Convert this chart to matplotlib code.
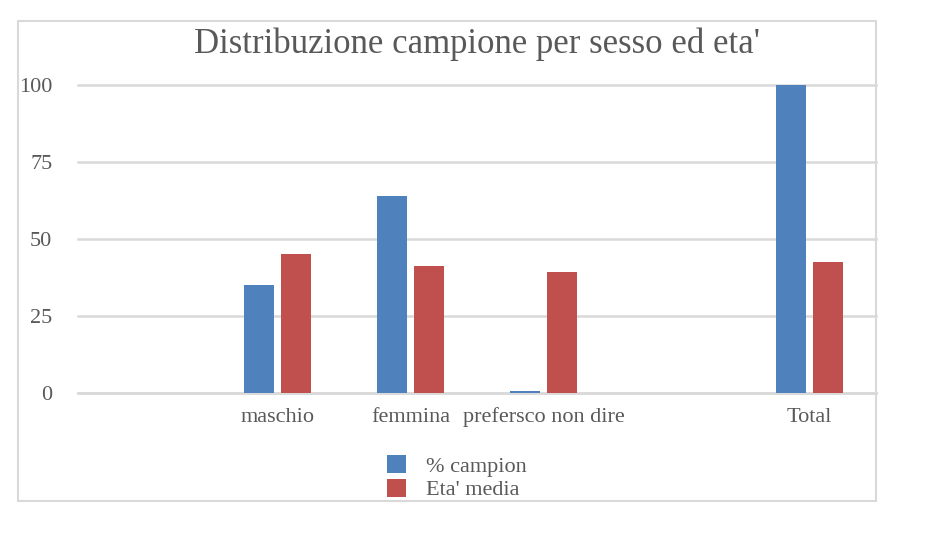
import matplotlib.pyplot as plt
import numpy as np
from matplotlib.patches import Rectangle

# categories (the empty slots are blank categories in the source sheet)
CATEGORIES = ["", "maschio", "femmina", "prefersco non dire", "", "Total"]
PCT_CAMPION = [np.nan, 35.0, 63.8, 0.5, np.nan, 100.0]
ETA_MEDIA = [np.nan, 45.0, 41.1, 39.2, np.nan, 42.4]
SERIES_LABELS = ["% campion", "Eta' media"]
Y_TICKS = [0, 25, 50, 75, 100]

BLUE = "#4F81BD"
RED = "#C0504D"
TEXT = "#595959"
GRID = "#D9D9D9"

plt.rcParams["font.family"] = ["Liberation Serif", "DejaVu Serif"]

fig = plt.figure(figsize=(9.44, 5.44), dpi=100)
W, H = 944, 544

# outer chart border
fig.patches.append(Rectangle((18 / W, 1 - 501 / H), (876 - 18) / W, (501 - 21) / H,
                             transform=fig.transFigure, fill=False,
                             edgecolor=GRID, linewidth=1.5))

ax = fig.add_axes([78 / W, 1 - 393 / H, (876 - 78) / W, (393 - 84.5) / H])

x = np.arange(len(CATEGORIES))
bw = 0.225
gap = 0.06
off = (bw + gap) / 2
ax.bar(x - off, PCT_CAMPION, width=bw, color=BLUE, label=SERIES_LABELS[0], zorder=3)
ax.bar(x + off, ETA_MEDIA, width=bw, color=RED, label=SERIES_LABELS[1], zorder=3)

ax.set_xlim(-0.5, len(CATEGORIES) - 0.5)
ax.set_ylim(0, 100)
ax.set_yticks(Y_TICKS)
ax.set_yticklabels([str(v) for v in Y_TICKS], fontsize=16, color=TEXT)
ax.set_xticks(x)
ax.set_xticklabels(CATEGORIES, fontsize=16, color=TEXT)
ax.tick_params(axis="y", length=0, pad=18.5)
ax.tick_params(axis="x", length=0, pad=10.5)

ax.grid(axis="y", color=GRID, linewidth=1.8, zorder=0)
for gl in ax.get_ygridlines():
    gl.set_clip_on(False)
ax.set_axisbelow(True)
for s in ["top", "right", "left"]:
    ax.spines[s].set_visible(False)
ax.spines["bottom"].set_color(GRID)
ax.spines["bottom"].set_linewidth(1.8)

fig.text(477 / W, 1 - 44 / H, "Distribuzione campione per sesso ed eta'",
         ha="center", va="center", fontsize=25, color=TEXT)

leg = ax.legend(loc="upper left", bbox_to_anchor=(387 / W, 1 - 455 / H),
                bbox_transform=fig.transFigure, ncol=1, frameon=False,
                fontsize=16, handlelength=0.85, handleheight=0.85,
                handletextpad=0.9, labelspacing=0.1,
                borderpad=0, borderaxespad=0)
for t in leg.get_texts():
    t.set_color(TEXT)

fig.savefig("out.png", dpi=100)
